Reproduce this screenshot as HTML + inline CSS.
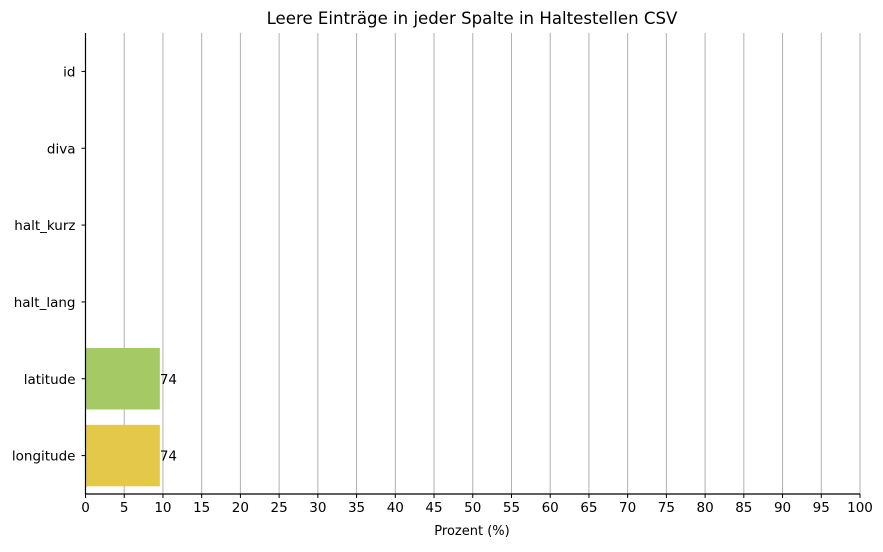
<!DOCTYPE html>
<html><head><meta charset="utf-8"><style>
body{margin:0;background:#fff;}
svg text{font-family:"DejaVu Sans","Liberation Sans",sans-serif;fill:#000;}
</style></head><body>
<svg id="chart" width="883" height="547" xmlns="http://www.w3.org/2000/svg">
<text x="472" y="24" font-size="16.6" text-anchor="middle">Leere Einträge in jeder Spalte in Haltestellen CSV</text>
<g id="grid"></g><g id="bars"></g><g id="axes"></g>
<text x="472" y="535" font-size="13" text-anchor="middle">Prozent (%)</text>
</svg>
<script>
const categories = ["id","diva","halt_kurz","halt_lang","latitude","longitude"];
const percents = [0,0,0,0,9.6,9.6];
const counts = [null,null,null,null,74,74];
const colors = ["#4c72b0","#6a9fd6","#5bbfa0","#7ccf7a","#a5c964","#e3c84a"];
const xTicks = [0,5,10,15,20,25,30,35,40,45,50,55,60,65,70,75,80,85,90,95,100];
const L=85.5,R=860,T=33,B=494;
const xs=v=>L+(v/100)*(R-L);
const band=(B-T)/categories.length;
const yc=i=>T+band*(i+0.5);
const ns="http://www.w3.org/2000/svg";
function mk(tag,attrs,parent){const e=document.createElementNS(ns,tag);for(const k in attrs)e.setAttribute(k,attrs[k]);parent.appendChild(e);return e;}
const grid=document.getElementById('grid'),bars=document.getElementById('bars'),axes=document.getElementById('axes');
xTicks.forEach(t=>{
 const g=mk('line',{x1:xs(t),x2:xs(t),y1:T,y2:B,stroke:'#b0b0b0','stroke-width':1},grid);
 
 
 const tk=mk('line',{x1:xs(t),x2:xs(t),y1:B,y2:B+4,stroke:'#000'},axes);
 
 
 const lb=mk('text',{x:xs(t),y:B+18,'font-size':13.5,'text-anchor':'middle'},axes);
 lb.textContent=t;
 
 
});
categories.forEach((c,i)=>{
 const h=band*0.8;
 if(percents[i]>0){
  const r=mk('rect',{x:L,y:yc(i)-h/2,width:xs(percents[i])-L,height:h,fill:colors[i]},bars);
  
  
 }
 if(counts[i]!==null){
  const v=mk('text',{x:xs(percents[i]),y:yc(i)+5,'font-size':13.5},bars);
  v.textContent=counts[i];
  
  
 }
 const tk=mk('line',{x1:L-4,x2:L,y1:yc(i),y2:yc(i),stroke:'#000'},axes);
 
 
 const lb=mk('text',{x:L-10,y:yc(i)+5,'font-size':13.5,'text-anchor':'end'},axes);
 lb.textContent=c;
 
 
});
const ya=mk('line',{x1:L,x2:L,y1:T,y2:B,stroke:'#000','stroke-width':1.2},axes);


const xa=mk('line',{x1:L,x2:R,y1:B,y2:B,stroke:'#000','stroke-width':1.2},axes);


</script>
</body></html>
